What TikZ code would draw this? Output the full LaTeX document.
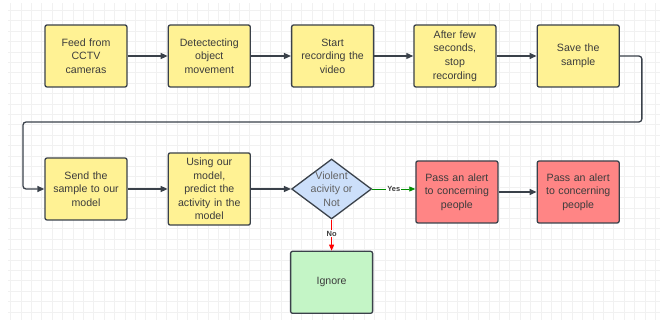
\documentclass[tikz,border=0pt]{standalone}
\usepackage{fontspec}
\setmainfont{Liberation Sans}
\usetikzlibrary{arrows.meta, positioning, shapes.geometric}
\definecolor{edge}{HTML}{3A414A}
\definecolor{ink}{HTML}{3C3C3C}
\definecolor{boxyellow}{HTML}{FFF294}
\definecolor{boxred}{HTML}{FF8585}
\definecolor{boxgreen}{HTML}{C4F5C6}
\definecolor{boxblue}{HTML}{CCDFFA}

\begin{document}
\begin{tikzpicture}[x=1pt, y=-1pt,
    stepbox/.style={draw=edge, line width=1.3pt, rounded corners=2pt,
      fill=boxyellow, text=ink, align=center, text width=74pt,
      minimum width=82pt, minimum height=62pt, inner xsep=2pt, inner ysep=5pt,
      font=\fontsize{10.6}{13.6}\selectfont},
    alertbox/.style={stepbox, fill=boxred},
    ignorebox/.style={stepbox, fill=boxgreen},
    arr/.style={draw=edge, line width=1.3pt, -{Triangle[length=7pt,width=6pt]}},
    answer/.style={fill=white, inner sep=1pt, text=ink,
      font=\fontsize{7.5}{8}\selectfont\bfseries}]
  \fill[white] (0,0) rectangle (667,320);
  \useasboundingbox (0,0) rectangle (667,320);
  \draw[gray!11, line width=0.6pt, step=10.4pt] (8,3) grid (660,320);

  % first row
  \node[stepbox] (feed) at (86,56) {Feed from\\CCTV\\cameras};
  \node[stepbox, right=40pt of feed] (detect) {Detectecting\\object\\movement};
  \node[stepbox, right=40pt of detect] (start) {Start\\recording the\\video};
  \node[stepbox, right=39pt of start] (stop) {After few\\seconds,\\stop\\recording};
  \node[stepbox, right=40pt of stop] (save) {Save the\\sample};

  % second row
  \node[stepbox] (send) at (86,189) {Send the\\sample to our\\model};
  \node[stepbox, right=40pt of send] (predict) {Using our\\model,\\predict the\\activity in the\\model};
  \node[diamond, draw=edge, line width=1.3pt, fill=boxblue, inner sep=0pt,
    minimum width=80pt, minimum height=60pt, right=40pt of predict,
    label={[align=center, text=ink!80, font=\fontsize{10.6}{13.6}\selectfont]center:Violent\\acivity or\\Not}] (violent) {};
  \node[alertbox, right=43pt of violent, yshift=-3pt] (alert) {Pass an alert\\to concerning\\people};
  \node[alertbox, right=38pt of alert] (alert2) {Pass an alert\\to concerning\\people};
  \node[ignorebox, below=31pt of violent] (ignore) {Ignore};

  \coordinate (turn) at (23,122);

  \foreach \a/\b in {feed/detect, detect/start, start/stop, stop/save, send/predict, predict/violent, alert/alert2}{
    \draw[arr] (\a) -- (\b);
  };
  \draw[arr, rounded corners=3pt] (save.east) -- ++(22,0) |- (turn) |- (send.west);

  \draw[arr, draw=green!55!black, line width=0.8pt, -{Triangle[length=6pt,width=5pt]}]
    (violent.east) -- (violent.east -| alert.west) node[answer, pos=0.5] {Yes};
  \draw[arr, draw=red, line width=0.8pt, -{Triangle[length=6pt,width=5pt]}]
    (violent.south) -- (ignore.north) node[answer, pos=0.45] {No};
\end{tikzpicture}
\end{document}
